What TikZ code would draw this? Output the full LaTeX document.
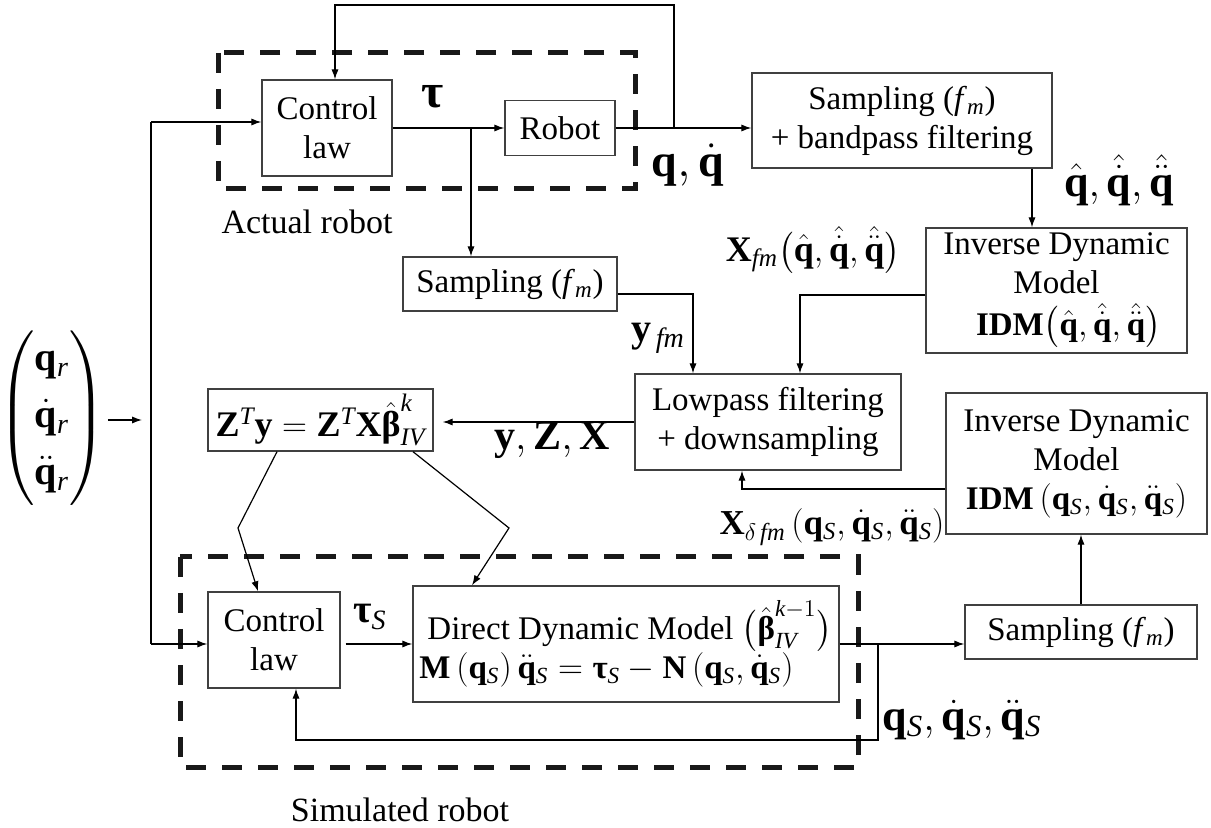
\documentclass[tikz,border=0pt]{standalone}
\usepackage{amsmath,bm}
\usepackage{fontspec}
\setmainfont{Liberation Serif}
\setmathrm{Liberation Serif}
\usetikzlibrary{arrows.meta}
\newcommand{\vq}{\mathbf{q}}
\newcommand{\vqd}{\dot{\mathbf{q}}}
\newcommand{\vqdd}{\ddot{\mathbf{q}}}
\newcommand{\btau}{\text{\bfseries τ}}
\newcommand{\bbeta}{\text{\bfseries β}}
\newcommand{\fm}{\textit{f}$_{\mathit{m}}$}
\tikzset{
  box/.style={draw=black!75, line width=0.7pt, align=center, inner sep=0pt,
              font=\fontsize{16.5}{19.5}\selectfont},
  arr/.style={-{Latex[length=5pt,width=3.6pt]}, line width=0.6pt},
  ln/.style={line width=0.6pt},
  dbox/.style={draw=black!90, line width=2.5pt, dash pattern=on 10pt off 8pt},
  lbl/.style={inner sep=0pt},
  txt/.style={inner sep=0pt, font=\fontsize{17}{20}\selectfont}
}
\begin{document}
\begin{tikzpicture}[x=0.5pt,y=-0.5pt]
\useasboundingbox (0,0) rectangle (1211,828);
% dashed groups
\draw[dbox] (218,53) rectangle (635,189);
\draw[dbox] (180,557) rectangle (858,767);
% boxes
\node[box, minimum width=65pt, minimum height=48pt] (cl1) at (327,128) {Control\\law};
\node[box, minimum width=55pt, minimum height=27.5pt] (robot) at (560,128) {Robot};
\node[box, minimum width=150pt, minimum height=47.5pt] (sbf) at (902,120.5) {Sampling (\fm)\\+ bandpass filtering};
\node[box, minimum width=130.5pt, minimum height=62.5pt] (idm1) at (1056.5,290.5) {Inverse Dynamic\\Model\\[1.5pt]\hspace*{12pt}$\mathbf{IDM}\bigl(\hat{\vq},\hat{\vqd},\hat{\vqdd}\bigr)$};
\node[box, minimum width=107pt, minimum height=27pt] (smid) at (510,284) {Sampling (\fm)};
\node[box, minimum width=133pt, minimum height=48pt] (lp) at (768,422) {Lowpass filtering\\+ downsampling};
\node[box, minimum width=112.5pt, minimum height=31pt, font=\fontsize{18}{22}\selectfont] (zb) at (320.5,420) {$\mathbf{Z}^{\mathit{T}}\mathbf{y}=\mathbf{Z}^{\mathit{T}}\mathbf{X}\hat{\bbeta}^{\mathit{k}}_{\mathit{IV}}$};
\node[box, minimum width=130.5pt, minimum height=70.5pt] (idm2) at (1076.5,463.5) {Inverse Dynamic\\Model\\$\mathbf{IDM}\left(\vq_{\mathit{S}},\vqd_{\mathit{S}},\vqdd_{\mathit{S}}\right)$};
\node[box, minimum width=66pt, minimum height=48pt] (cl2) at (274,640) {Control\\law};
\node[box, minimum width=213pt, minimum height=58pt, align=left] (ddm) at (626,644) {\hspace*{4pt}Direct Dynamic Model $\bigl(\hat{\bbeta}^{\mathit{k}-1}_{\mathit{IV}}\bigr)$\\$\mathbf{M}\left(\vq_{\mathit{S}}\right)\vqdd_{\mathit{S}}=\btau_{\mathit{S}}-\mathbf{N}\left(\vq_{\mathit{S}},\vqd_{\mathit{S}}\right)$};
\node[box, minimum width=116pt, minimum height=27pt] (sbot) at (1081,632) {Sampling (\fm)};
% labels
\node[lbl, font=\fontsize{24}{28}\selectfont] (tau) at (433,97) {$\btau$};
\node[lbl, font=\fontsize{23}{28}\selectfont] (qqd) at (688,165) {$\vq,\vqd$};
\node[lbl, font=\fontsize{22}{26}\selectfont] (qhat) at (1119,180) {$\hat{\vq},\hat{\vqd},\hat{\vqdd}$};
\node[lbl, font=\fontsize{18}{22}\selectfont] (xfm) at (813,250) {$\mathbf{X}_{\mathit{fm}}\bigl(\hat{\vq},\hat{\vqd},\hat{\vqdd}\bigr)$};
\node[lbl, font=\fontsize{20}{24}\selectfont] (yfm) at (658,338) {$\mathbf{y}_{\,\mathit{fm}}$};
\node[lbl, font=\fontsize{21}{25}\selectfont] (yzx) at (552,440) {$\mathbf{y},\mathbf{Z},\mathbf{X}$};
\node[lbl, font=\fontsize{17.5}{22}\selectfont] (xdfm) at (832,527) {$\mathbf{X}_{\delta\,\mathit{fm}}\left(\vq_{\mathit{S}},\vqd_{\mathit{S}},\vqdd_{\mathit{S}}\right)$};
\node[lbl, font=\fontsize{20}{24}\selectfont] (taus) at (370,617) {$\btau_{\mathit{S}}$};
\node[lbl, font=\fontsize{22}{26}\selectfont] (qs) at (962,720) {$\vq_{\mathit{S}},\vqd_{\mathit{S}},\vqdd_{\mathit{S}}$};
\node[txt] (act) at (307,222) {Actual robot};
\node[txt] (sim) at (400,810) {Simulated robot};
\node[lbl, font=\fontsize{20}{24}\selectfont] (mat) at (52,418) {$\left(\begin{array}{@{}c@{}}\vq_{\mathit{r}}\\[4.5pt]\vqd_{\mathit{r}}\\[4.5pt]\vqdd_{\mathit{r}}\end{array}\right)$};
% coordinates
\coordinate (j1) at (674,128);
\coordinate (ctop) at (335,5);
\coordinate (b1) at (471,128);
\coordinate (c1032) at (1032,0);
\coordinate (c800) at (800,295);
\coordinate (c693) at (693,294);
\coordinate (c742) at (742,489);
\coordinate (b2) at (878,644);
\coordinate (c296) at (296,740);
\coordinate (vt) at (151,122);
\coordinate (vb) at (151,644);
\coordinate (mend) at (142,420);
\coordinate (k1) at (238,528);
\coordinate (k2) at (509,528);
% connectors
\draw[arr] (j1) |- (ctop) -- (cl1.north -| ctop);
\draw[arr] (cl1.east) -- (robot.west);
\draw[arr] (b1) -- (b1 |- smid.north);
\draw[arr] (robot.east) -- (robot.east -| sbf.west);
\draw[arr] (sbf.south -| c1032) -- (idm1.north -| c1032);
\draw[arr] (idm1.west |- c800) -- (c800) -- (c800 |- lp.north);
\draw[arr] (smid.east |- c693) -- (c693) -- (c693 |- lp.north);
\draw[arr, shorten >=4.5pt] (lp.west) -- (lp.west -| zb.east);
\draw[arr] (idm2.west |- c742) -- (c742) -- (c742 |- lp.south);
\draw[arr] (sbot.north) -- (sbot.north |- idm2.south);
\draw[arr] (ddm.east) -- (ddm.east -| sbot.west);
\draw[arr] (b2) |- (c296) -- (c296 |- cl2.south);
\draw[arr, shorten <=2.5pt] (cl2.east |- b2) -- (ddm.west |- b2);
\draw[ln] (vt) -- (vb);
\draw[arr] (vt) -- (vt -| cl1.west);
\draw[arr] (vb) -- (vb -| cl2.west);
\draw[arr, shorten <=1pt] (mat.east |- mend) -- (mend);
\draw[arr] ([xshift=-21.75pt]zb.south) -- (k1) -- ([xshift=-8pt]cl2.north);
\draw[arr] ([xshift=46.25pt]zb.south) -- (k2) -- ([xshift=-77pt]ddm.north);
\end{tikzpicture}
\end{document}
